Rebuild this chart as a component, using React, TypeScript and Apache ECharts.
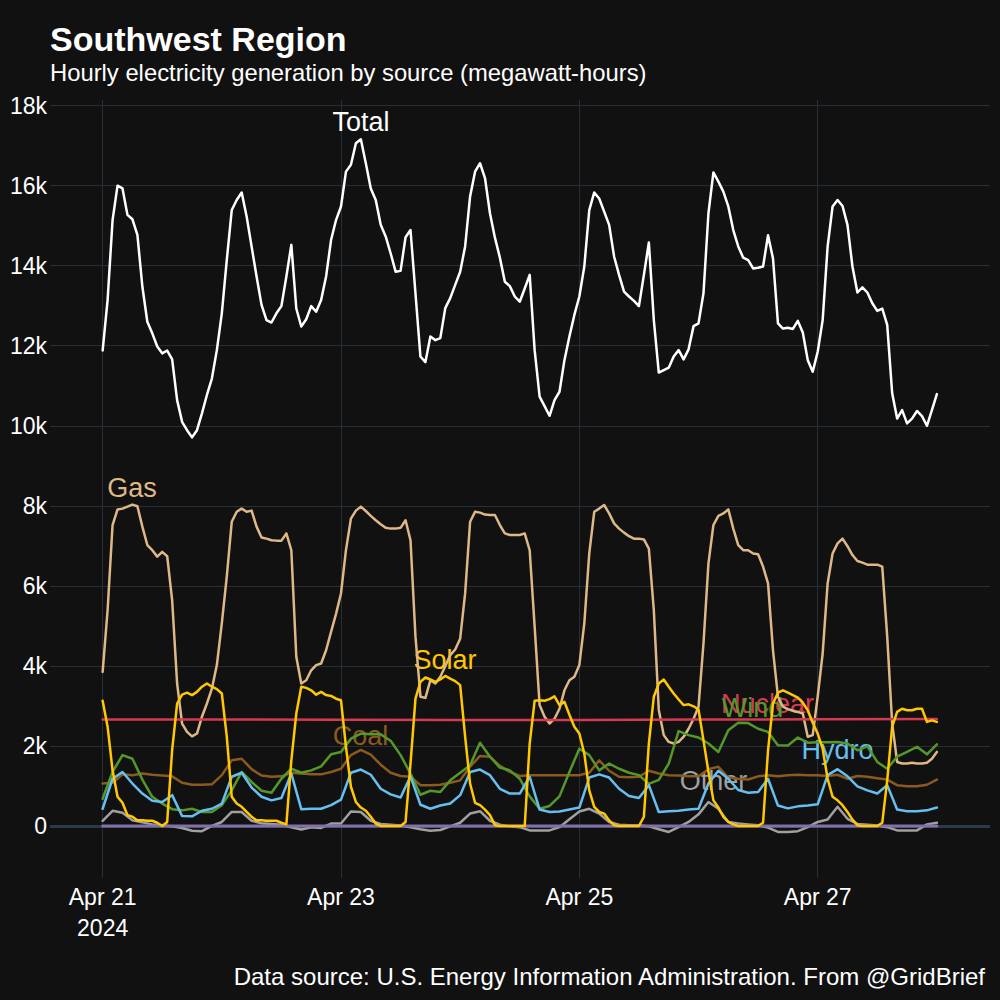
import React, { useEffect, useRef } from "react";
import * as echarts from "echarts";

// hours since Apr 21 2024 00:00
const HOURS = Array.from({ length: 169 }, (_, i) => i);
const HOURS_2 = Array.from({ length: 85 }, (_, i) => i * 2);
const NUCLEAR_HOURS = [0, 24, 48, 72, 96, 120, 144, 168];
const ZERO_HOURS = [0, 168];

const X_TICKS = [0, 48, 96, 144];
const X_TICK_LABELS = ["Apr 21\n2024", "Apr 23", "Apr 25", "Apr 27"];
const Y_TICKS = [0, 2000, 4000, 6000, 8000, 10000, 12000, 14000, 16000, 18000];

const TOTAL = [
  11880, 13140, 15140, 16000, 15930, 15270, 15160, 14770, 13480, 12600, 12310, 11980, 11810, 11880, 11660, 10640, 10100, 9890, 9710, 9890, 10310, 10770, 11180, 11890,
  12810, 14140, 15390, 15640, 15830, 15230, 14480, 13730, 13020, 12640, 12580, 12810, 12990, 13730, 14520, 12930, 12480, 12660, 12990, 12850, 13140, 13730, 14640, 15140,
  15480, 16350, 16520, 17060, 17160, 16560, 15930, 15640, 15020, 14730, 14310, 13850, 13870, 14710, 14890, 13310, 11730, 11590, 12230, 12140, 12190, 12940, 13190, 13520,
  13850, 14480, 15730, 16350, 16560, 16190, 15310, 14700, 14200, 13600, 13490, 13230, 13100, 13430, 13770, 11890, 10730, 10490, 10250, 10640, 10850, 11640, 12230, 12770,
  13230, 13980, 15390, 15830, 15680, 15350, 15020, 14230, 13770, 13350, 13230, 13120, 12990, 13770, 14580, 12640, 11330, 11390, 11450, 11730, 11890, 11660, 11910, 12490,
  12560, 13310, 15310, 16330, 16100, 15850, 15480, 14890, 14480, 14200, 14140, 13930, 13950, 13980, 14760, 14180, 12560, 12430, 12450, 12420, 12620, 12330, 11640, 11350,
  11850, 12640, 14480, 15480, 15640, 15490, 15020, 13980, 13330, 13460, 13330, 13060, 12870, 12930, 12520, 10810, 10180, 10390, 10060, 10180, 10370, 10240, 10000, 10390,
  10790,
];

const GAS = [
  3850, 5390, 7520, 7910, 7930, 7980, 8030, 7990, 7480, 7020, 6890, 6730, 6850, 6740, 5640, 3560, 2560, 2350, 2240, 2310, 2730, 3060, 3430, 4020,
  5060, 6230, 7600, 7850, 7930, 7850, 7880, 7480, 7210, 7180, 7140, 7130, 7130, 7310, 6890, 4230, 3560, 3640, 3890, 4020, 4060, 4390, 4850, 5300,
  5810, 6890, 7680, 7880, 7980, 7870, 7750, 7640, 7540, 7450, 7430, 7430, 7450, 7640, 7140, 4730, 3230, 3200, 3640, 3560, 3730, 3990, 4270, 4410,
  4680, 5810, 7600, 7850, 7830, 7780, 7770, 7770, 7520, 7310, 7270, 7270, 7270, 7310, 6890, 4980, 3020, 2730, 2560, 2680, 2930, 3390, 3640, 3730,
  4020, 5060, 6810, 7850, 7930, 8020, 7810, 7560, 7430, 7330, 7240, 7180, 7180, 7160, 6930, 5390, 2900, 2270, 2100, 2060, 2100, 2230, 2430, 2680,
  2980, 4560, 6560, 7520, 7750, 7810, 7910, 7430, 7020, 6890, 6890, 6810, 6790, 6480, 6060, 4390, 3230, 2980, 2920, 2880, 2850, 2810, 2230, 2270,
  3230, 4310, 6060, 6810, 7060, 7180, 6990, 6770, 6620, 6580, 6530, 6530, 6530, 6480, 4730, 2560, 1600, 1560, 1560, 1580, 1560, 1560, 1580, 1680,
  1850,
];

const SOLAR = [
  3130, 2480, 1390, 730, 580, 270, 230, 140, 140, 130, 130, 80, 0, 100, 1900, 3060, 3280, 3330, 3270, 3350, 3480, 3560, 3480, 3420,
  3310, 2230, 730, 560, 480, 350, 230, 140, 140, 130, 130, 130, 80, 40, 1640, 2810, 3480, 3450, 3390, 3280, 3350, 3270, 3250, 3180,
  3140, 1980, 980, 600, 460, 380, 230, 60, 0, 0, 0, 0, 0, 100, 1560, 3180, 3600, 3710, 3660, 3600, 3660, 3750, 3680, 3620,
  3520, 2230, 1060, 580, 520, 410, 270, 20, 0, 0, 0, 0, 0, 0, 2060, 3130, 3140, 3130, 3170, 3240, 3020, 3100, 2780, 2480,
  2310, 1810, 890, 480, 350, 310, 140, 20, 0, 0, 0, 0, 0, 230, 2060, 3230, 3560, 3660, 3480, 3310, 3160, 3020, 3040, 2990,
  2910, 2140, 1350, 640, 460, 230, 100, 40, 0, 0, 0, 0, 0, 80, 1890, 3060, 3330, 3390, 3330, 3270, 3210, 3080, 2890, 2580,
  2310, 1930, 1180, 730, 640, 520, 350, 160, 20, 0, 0, 0, 0, 80, 1140, 2480, 2850, 2930, 2890, 2890, 2930, 2930, 2600, 2640,
  2600,
];

// every 2 hours
const WIND = [
  680, 1350, 1770, 1680, 1160, 730, 560, 420, 390, 430, 350, 350,
  520, 890, 1350, 1100, 880, 830, 1180, 1430, 1330, 1390, 1490, 1790,
  1850, 2180, 2310, 2290, 2290, 2130, 1770, 1310, 780, 880, 850, 1140,
  1330, 1520, 2080, 1730, 1460, 1390, 1180, 740, 430, 500, 740, 1350,
  1930, 1770, 1390, 1560, 1430, 1330, 1270, 1050, 1150, 1560, 2370, 2270,
  2210, 2060, 1850, 2390, 2580, 2570, 2430, 2350, 2020, 2010, 2210, 2080,
  2090, 2090, 2100, 2060, 1890, 1990, 1600, 1430, 1730, 1850, 1980, 1790,
  2040,
];

const HYDRO = [
  430, 1180, 1350, 1060, 810, 630, 600, 770, 250, 240, 380, 430,
  560, 1230, 1330, 960, 730, 640, 700, 1310, 420, 430, 430, 520,
  660, 1330, 1410, 1280, 930, 790, 710, 1240, 530, 430, 510, 560,
  770, 1350, 1410, 1270, 930, 810, 810, 1230, 410, 350, 360, 410,
  460, 1210, 1290, 1210, 930, 750, 700, 1020, 350, 370, 380, 410,
  430, 1060, 1380, 1180, 900, 830, 850, 1180, 510, 440, 490, 510,
  540, 1270, 1420, 1240, 990, 890, 810, 1020, 410, 370, 370, 390,
  460,
];

const COAL = [
  1060, 1080, 1290, 1270, 1310, 1280, 1260, 1240, 1080, 1030, 1030, 1040,
  1270, 1640, 1680, 1420, 1260, 1230, 1240, 1330, 1310, 1290, 1290, 1350,
  1430, 1770, 1900, 1780, 1530, 1330, 1250, 1230, 1020, 1020, 1030, 1080,
  1140, 1480, 1750, 1730, 1500, 1350, 1250, 1270, 1270, 1270, 1270, 1270,
  1270, 1330, 1640, 1380, 1230, 1220, 1230, 1380, 1310, 1270, 1260, 1240,
  1240, 1420, 1480, 1210, 1180, 1160, 1240, 1270, 1240, 1270, 1280, 1270,
  1270, 1250, 1280, 1180, 1250, 1230, 1190, 1160, 1020, 990, 990, 1030,
  1160,
];

const OTHER = [
  130, 380, 330, 140, 90, 40, 20, -10, -50, -120, -130, 0,
  100, 350, 350, 130, 70, 50, 30, -30, -90, -30, -50, 60,
  60, 360, 350, 130, 50, 30, 10, -30, -80, -120, -100, -10,
  80, 310, 370, 130, 30, -10, -30, -110, -110, -110, -30, 170,
  360, 430, 310, 100, 30, 20, 20, -10, -80, -150, -30, 100,
  290, 600, 430, 100, 60, 40, 20, -40, -150, -150, -130, -30,
  100, 160, 480, 180, 50, 30, 10, -30, -110, -110, -110, 40,
  80,
];

const NUCLEAR = [2660, 2660, 2655, 2650, 2650, 2660, 2665, 2670];
const BATTERY = [0, 0];

const FONT = "'Liberation Sans', Arial, Helvetica, sans-serif";

const pairs = (xs: number[], ys: number[]) => ys.map((y, i) => [xs[i], y]);

function lineSeries(name: string, xs: number[], ys: number[], color: string, width = 2.5, extra: any = {}) {
  return {
    name,
    type: "line",
    data: pairs(xs, ys),
    showSymbol: false,
    symbol: "none",
    silent: true,
    lineStyle: { color, width, join: "round", cap: "round" },
    itemStyle: { color },
    ...extra,
  };
}

function label(text: string, x: number, y: number, color: string) {
  return {
    type: "text",
    x,
    y,
    z: 1,
    silent: true,
    style: {
      text,
      fill: color,
      fontSize: 27,
      fontFamily: FONT,
      align: "center",
      verticalAlign: "middle",
    },
  };
}

export default function App() {
  const ref = useRef<HTMLDivElement>(null);

  useEffect(() => {
    if (!ref.current) return;
    const chart = echarts.init(ref.current, undefined, { renderer: "svg" });
    const option: any = {
      animation: false,
      backgroundColor: "#111111",
      grid: { left: 50, right: 10, top: 100, bottom: 122, containLabel: false },
      xAxis: {
        type: "value",
        min: -10.6,
        max: 178.7,
        axisLine: { show: false, onZero: false },
        axisTick: { show: false, customValues: X_TICKS },
        axisLabel: {
          customValues: X_TICKS,
          formatter: (v: number) => X_TICK_LABELS[X_TICKS.indexOf(Math.round(v))] ?? "",
          color: "#ffffff",
          fontSize: 23,
          lineHeight: 31,
          margin: 3,
          fontFamily: FONT,
        },
        splitLine: { show: true, lineStyle: { color: "#262e37", width: 1 } },
      },
      yAxis: {
        type: "value",
        min: -1300,
        max: 18140,
        axisLine: { show: false },
        axisTick: { show: false, customValues: Y_TICKS },
        axisLabel: {
          customValues: Y_TICKS,
          formatter: (v: number) => (v === 0 ? "0" : `${v / 1000}k`),
          color: "#ffffff",
          fontSize: 23,
          margin: 3,
          fontFamily: FONT,
        },
        splitLine: { show: true, lineStyle: { color: "#262e37", width: 1 } },
      },
      series: [
        lineSeries("Gas", HOURS, GAS, "#deb887", 2.5, {
          markLine: {
            silent: true,
            symbol: "none",
            label: { show: false },
            lineStyle: { color: "#2c3a48", width: 3, type: "solid" },
            data: [{ yAxis: 0 }],
            z: 1,
          },
        }),
        lineSeries("Nuclear", NUCLEAR_HOURS, NUCLEAR, "#d63a50"),
        lineSeries("Coal", HOURS_2, COAL, "#8b5a1e"),
        lineSeries("Wind", HOURS_2, WIND, "#55982a"),
        lineSeries("Hydro", HOURS_2, HYDRO, "#66bff0"),
        lineSeries("Other", HOURS_2, OTHER, "#a0a0a0"),
        lineSeries("Battery", ZERO_HOURS, BATTERY, "#8470a8", 3),
        lineSeries("Solar", HOURS, SOLAR, "#ffc800"),
        lineSeries("Total", HOURS, TOTAL, "#ffffff"),
      ],
      graphic: {
        elements: [
          {
            type: "text",
            x: 50,
            y: 38.5,
            silent: true,
            style: { text: "Southwest Region", fill: "#ffffff", fontSize: 34, fontWeight: "bold", fontFamily: FONT, align: "left", verticalAlign: "middle" },
          },
          {
            type: "text",
            x: 50,
            y: 72,
            silent: true,
            style: { text: "Hourly electricity generation by source (megawatt-hours)", fill: "#ffffff", fontSize: 23.8, fontFamily: FONT, align: "left", verticalAlign: "middle" },
          },
          {
            type: "text",
            x: 985,
            y: 976,
            silent: true,
            style: { text: "Data source: U.S. Energy Information Administration. From @GridBrief", fill: "#ffffff", fontSize: 24, fontFamily: FONT, align: "right", verticalAlign: "middle" },
          },
          label("Total", 361, 122, "#ffffff"),
          label("Gas", 132, 488, "#deb887"),
          label("Solar", 445, 660, "#ffc800"),
          label("Coal", 360.5, 736, "#8b5a1e"),
          label("Nuclear", 767.5, 704, "#d63a50"),
          label("Wind", 752.5, 708, "#55982a"),
          label("Hydro", 837.5, 750, "#66bff0"),
          label("Other", 713.5, 780.5, "#a0a0a0"),
        ],
      },
    };
    chart.setOption(option);
    return () => chart.dispose();
  }, []);

  return (
    <div
      ref={ref}
      style={{ position: "fixed", left: 0, top: 0, width: 1000, height: 1000, background: "#111111" }}
    />
  );
}
